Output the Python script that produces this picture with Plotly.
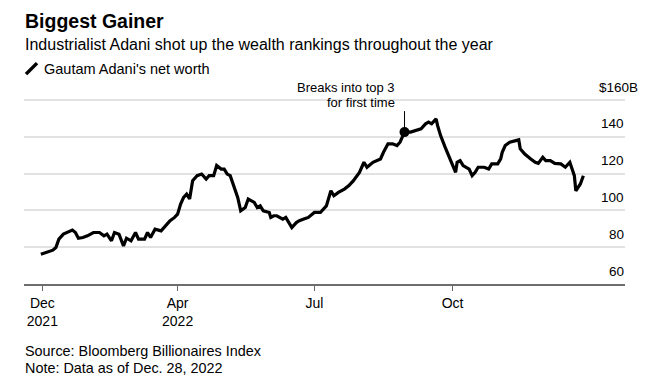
import pandas as pd
import plotly.graph_objects as go

# ---- data ----
base_date = "2021-12-31"
day_offsets = [0, 4, 8, 10, 12, 15, 21, 23, 25, 28,
               31, 35, 39, 42, 44, 47, 49, 52, 55, 57,
               60, 63, 65, 69, 71, 73, 76, 80, 84, 86,
               89, 91, 93, 95, 97, 99, 101, 104, 107, 110,
               112, 115, 117, 120, 122, 124, 126, 128, 131, 133,
               136, 138, 142, 144, 146, 148, 152, 153, 155, 157,
               161, 163, 165, 167, 170, 172, 175, 178, 182, 186,
               190, 193, 195, 198, 202, 205, 208, 212, 215, 217,
               221, 224, 226, 228, 231, 234, 237, 239, 242, 246,
               249, 253, 256, 258, 260, 263, 264, 266, 269, 271,
               274, 276, 277, 279, 281, 285, 287, 289, 291, 295,
               298, 300, 304, 306, 307, 309, 312, 316, 318, 319,
               322, 326, 329, 331, 334, 336, 339, 342, 346, 349,
               352, 355, 356, 359, 361]
net_worth = [76.2, 77.1, 78.4, 79.8, 84.4, 87.1, 89.3, 88, 84.9, 85.3,
             86.2, 88, 88, 86.2, 87.1, 83.5, 88, 87.1, 80.7, 84.9,
             83.5, 88, 84.4, 84.4, 88, 85.3, 89.8, 88.9, 92.5, 94.4,
             96.2, 98, 103.5, 107.1, 108.9, 106.2, 116.2, 118.9, 119.8, 117.1,
             118.9, 118.9, 124.4, 122.5, 122.5, 119.8, 118.9, 114.4, 107.1, 99.8,
             101.6, 106.2, 104.4, 101.6, 102.5, 99.8, 98.9, 96.2, 97.1, 97.1,
             95.3, 96.2, 93.4, 90.7, 93.4, 94.4, 95.3, 96.2, 98.9, 98.9,
             102.5, 110.7, 108, 109.8, 111.6, 113.5, 116.2, 120.7, 126.2, 123.5,
             126.2, 127.1, 128, 131.6, 136.2, 136.2, 135.3, 137.1, 142.6, 142.6,
             143.5, 144.4, 147.1, 148, 147.1, 149.8, 146.2, 140.7, 134.4, 130.7,
             124.4, 120.7, 126.2, 127.1, 124.4, 122.5, 118.9, 120.7, 123.5, 123.5,
             122.5, 125.3, 125.3, 128, 131.6, 135.3, 137.1, 138, 138.4, 133.5,
             130.7, 128, 126.2, 125.6, 128.9, 127.1, 127.1, 125.6, 125.3, 123.5,
             126.2, 118.9, 110.7, 114.4, 118.9]

event_date = "2022-08-30"
event_value = 142.6
event_text = ["Breaks into top 3", "for first time"]

tick_dates = ["2022-01-01", "2022-04-01", "2022-07-01", "2022-10-01"]
tick_labels = ["Dec<br>2021", "Apr<br>2022", "Jul", "Oct"]
y_ticks = [60, 80, 100, 120, 140, 160]
y_labels = ["60", "80", "100", "120", "140", "$160B"]

dates = pd.Timestamp(base_date) + pd.to_timedelta(day_offsets, unit="D")

# ---- layout helpers (screen pixel -> paper); page body has an 8px margin ----
OFF = 8
W, H = 650 - OFF, 384 - OFF
Y_MIN, Y_MAX = 60, 160.6
PX_PER_UNIT = 184 / 100
PLOT_L, PLOT_R, PLOT_B = 24, 625, 284                 # screen pixels
PLOT_T = PLOT_B - (Y_MAX - Y_MIN) * PX_PER_UNIT
L, T = PLOT_L - OFF, PLOT_T - OFF
R = W - (PLOT_R - OFF)
B = H - (PLOT_B - OFF)
PW, PH = PLOT_R - PLOT_L, PLOT_B - PLOT_T


def px(x):
    return (x - PLOT_L) / PW


def py(y):
    return (PLOT_B - y) / PH


FONT = "Liberation Sans, Arial, sans-serif"

fig = go.Figure()
fig.add_trace(go.Scatter(x=dates, y=net_worth, mode="lines",
                         line=dict(color="#000000", width=3.2),
                         hoverinfo="skip", showlegend=False))
fig.add_trace(go.Scatter(x=[event_date], y=[event_value], mode="markers",
                         marker=dict(color="#000000", size=10),
                         hoverinfo="skip", showlegend=False))

annotations = []
annotations.append(dict(text="<b>Biggest Gainer</b>", x=px(23), y=py(20.5),
                        font=dict(size=19.5, color="#000000")))
annotations.append(dict(text="Industrialist Adani shot up the wealth rankings throughout the year",
                        x=px(23), y=py(44.5), font=dict(size=16, color="#000000")))
annotations.append(dict(text="Gautam Adani's net worth", x=px(42), y=py(69),
                        font=dict(size=14.5, color="#000000")))
annotations.append(dict(text="Source: Bloomberg Billionaires Index", x=px(23), y=py(351.5),
                        font=dict(size=14.4, color="#000000")))
annotations.append(dict(text="Note: Data as of Dec. 28, 2022", x=px(23), y=py(368),
                        font=dict(size=14.4, color="#000000")))
for a in annotations:
    a.update(xref="paper", yref="paper", xanchor="left", yanchor="middle",
             showarrow=False)

for text, yc in zip(event_text, [87.7, 102.3]):
    annotations.append(dict(text=text, xref="paper", yref="paper", x=px(397), y=py(yc),
                            xanchor="right", yanchor="middle", showarrow=False,
                            font=dict(size=13, color="#000000")))

for v, lab in zip(y_ticks, y_labels):
    xr = 639.5 if lab.startswith("$") else 626
    annotations.append(dict(text=lab, xref="paper", yref="y", x=px(xr), y=v,
                            yshift=13, xanchor="right", yanchor="middle",
                            showarrow=False, font=dict(size=13.5, color="#000000")))

shapes = [
    dict(type="line", xref="paper", yref="paper", x0=px(26), y0=py(74), x1=px(37), y1=py(63),
         line=dict(color="#000000", width=3.5)),
    dict(type="line", xref="x", yref="paper", x0=event_date, x1=event_date,
         y0=py(131), y1=py(111), line=dict(color="#000000", width=1)),
]

fig.update_layout(
    width=W, height=H,
    margin=dict(l=L, r=R, t=T, b=B, pad=0),
    paper_bgcolor="#ffffff", plot_bgcolor="#ffffff",
    font=dict(family=FONT, color="#000000"),
    annotations=annotations, shapes=shapes,
    showlegend=False,
    xaxis=dict(type="date", range=["2021-12-19 19:00", "2023-01-23 17:00"],
               tickvals=tick_dates, ticktext=tick_labels,
               ticks="outside", ticklen=5, tickcolor="#666666", tickwidth=1,
               showline=True, linecolor="#6e6e6e", linewidth=2,
               showgrid=False, zeroline=False,
               tickfont=dict(size=14, color="#000000")),
    yaxis=dict(range=[Y_MIN, Y_MAX], tickvals=y_ticks, showticklabels=False,
               showgrid=True, gridcolor="#e2e2e2", gridwidth=1.5,
               zeroline=False, showline=False, ticks=""),
)

fig.write_html("out.html")
